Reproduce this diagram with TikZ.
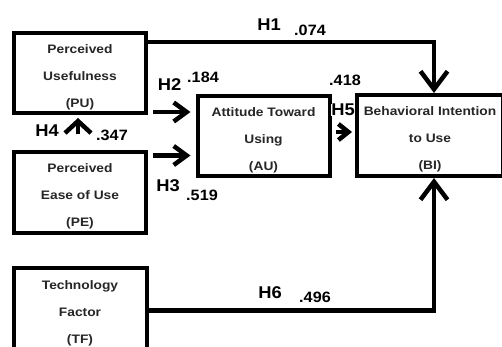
\documentclass[tikz,border=0pt]{standalone}
\usepackage{fontspec}
\setmainfont{Liberation Sans}
\newfontfamily\boxfont[FakeStretch=1.12]{Liberation Sans}
\newfontfamily\labfont[FakeStretch=1.08]{Liberation Sans}
\usetikzlibrary{arrows.meta}
% first-line strut: lowers the three text lines inside a box
\newcommand{\boxstrut}{\rule{0pt}{17.5pt}}
\begin{document}
\begin{tikzpicture}[x=1pt,y=-1pt,
  construct/.style={draw=black,line width=4pt,rectangle,inner sep=0pt,align=center,
    font=\boxfont\bfseries\fontsize{12.3}{27}\selectfont,text=black!85},
  conn/.style={line width=4.5pt,line join=miter},
  bigtip/.style={-{Straight Barb[length=18pt,width=27pt]}},
  smalltip/.style={-{Straight Barb[length=13pt,width=19pt]}},
  hlab/.style={font=\labfont\bfseries\fontsize{17}{17}\selectfont,inner sep=0pt},
  vlab/.style={font=\labfont\bfseries\fontsize{15}{15}\selectfont,inner sep=0pt}]
\clip (0,0) rectangle (502,347);
\fill[white] (0,0) rectangle (502,347);

% constructs
\node[construct,minimum width=132pt,minimum height=80pt] (PU) at (80,73)
  {\boxstrut Perceived\\Usefulness\\(PU)};
\node[construct,minimum width=132pt,minimum height=80pt] (PE) at (80,192.5)
  {\boxstrut Perceived\\Ease of Use\\(PE)};
\node[construct,minimum width=133pt,minimum height=84pt] (TF) at (80,309.5)
  {\boxstrut Technology\\Factor\\(TF)};
\node[construct,minimum width=132pt,minimum height=80pt] (AU) at (263.5,136)
  {\boxstrut Attitude Toward\\Using\\(AU)};
\node[construct,minimum width=146pt,minimum height=81pt] (BI) at (430,135.5)
  {\boxstrut Behavioral Intention\\to Use\\(BI)};

% paths
\draw[conn,bigtip] ([yshift=-11pt]PU.north east) -| ([xshift=4pt]BI.north);
\draw[conn,bigtip] ([yshift=-1pt]TF.east) -| ([xshift=4pt]BI.south);
\coordinate (h2s) at ([xshift=5pt,yshift=3pt]PU.south east);
\draw[conn,smalltip] (h2s) -- ([xshift=-5pt]AU.west |- h2s);
\coordinate (h3s) at ([xshift=5pt,yshift=-5pt]PE.north east);
\draw[conn,smalltip] (h3s) -- ([xshift=-5pt]AU.west |- h3s);
\draw[conn,-{Straight Barb[length=12pt,width=26pt]}] ([xshift=-2pt,yshift=16pt]PE.north) -- ([xshift=-2pt,yshift=-3pt]PU.south);
\coordinate (h5s) at ([xshift=4pt,yshift=4pt]AU.east);
\draw[conn,-{Straight Barb[length=10pt,width=16pt]}] (h5s) -- ([xshift=-3pt]BI.west |- h5s);

% path labels
\node[hlab] (lH1) at (269,25) {H1};
\node[vlab] (v1) at (310,30) {.074};
\node[hlab] (lH2) at (169.5,85) {H2};
\node[vlab] (v2) at (203,77) {.184};
\node[hlab] (lH3) at (168,186) {H3};
\node[vlab] (v3) at (202,195) {.519};
\node[hlab] (lH4) at (47,131) {H4};
\node[vlab] (v4) at (112,135) {.347};
\node[vlab] (v5) at (345,80) {.418};
\node[hlab,fill=white,inner sep=0.5pt] (lH5) at (343,110) {H5};
\node[hlab] (lH6) at (270,293) {H6};
\node[vlab] (v6) at (315,297) {.496};
\end{tikzpicture}
\end{document}
